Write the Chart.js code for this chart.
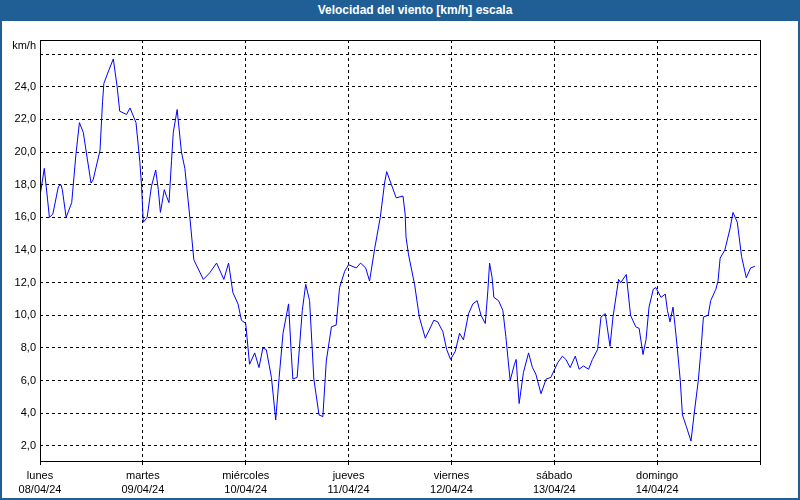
<!DOCTYPE html>
<html>
<head>
<meta charset="utf-8">
<script src="https://cdn.jsdelivr.net/npm/chart.js@4"></script>
<style>
  body { margin: 0; background: #fff; }
  #wrap { position: relative; width: 800px; height: 500px; overflow: hidden; background: #fff; }
  #bar { position: absolute; left: 0; top: 0; width: 800px; height: 21px; background: #1f5f95; color: #fff;
         font: bold 12px "Liberation Sans", Arial, sans-serif; line-height: 21px; text-align: center;
         box-sizing: border-box; padding-left: 30px; z-index: 2; }
  #frame { position: absolute; left: 0; top: 0; width: 800px; height: 500px; box-sizing: border-box;
           border: 2px solid #1f5f95; border-top: none; pointer-events: none; z-index: 2; }
  #unit { position: absolute; left: 0; width: 36px; top: 39px; text-align: right;
          font: 11px "Liberation Sans", Arial, sans-serif; color: #000; z-index: 2; }
  canvas { position: absolute; left: 0; top: 0; }
</style>
</head>
<body>
<div id="wrap">
  <div id="bar">Velocidad del viento [km/h] escala</div>
  <div id="unit">km/h</div>
  <canvas id="myChart" width="800" height="500"></canvas>
  <div id="frame"></div>
</div>
<script>
// hours since lunes 08/04/24 00:00
const hours = [0, 1, 2.2, 3, 4.3, 4.9, 5.2, 6.1, 7.4, 8.4, 9.2, 10.1, 11.9, 12.4, 14, 14.6, 14.9, 15.9, 17.1, 18,
  18.6, 20.2, 21, 22.4, 23.3, 23.7, 24.1, 25, 26, 27, 27.6, 28.1, 29, 29.5, 30.1, 30.7, 31.1, 32, 33, 33.8,
  35, 35.9, 38.1, 39.6, 41.2, 42.9, 44, 45, 46.2, 47, 48, 48.9, 50.1, 51.1, 52, 52.8, 54, 55, 55.8, 56.7,
  58, 58.6, 59, 60, 61.2, 62, 62.9, 63.9, 65.1, 66, 66.8, 68, 69.1, 69.9, 71.1, 72, 73.8, 74.8, 76, 76.9,
  78.1, 79.4, 80.4, 80.9, 82, 83.1, 84.7, 85.2, 85.4, 86, 87.4, 88.5, 89.9, 91.9, 92.8, 94, 94.9, 95.8, 96.9, 97.9,
  98.8, 100, 101, 102, 102.9, 103.9, 104.5, 104.9, 105.5, 105.9, 107, 108, 108.7, 109.7, 110.7, 111.1, 111.8, 112.8, 114, 114.9,
  115.7, 116.9, 118.1, 119.2, 120.8, 121.9, 122.7, 123.7, 124.9, 125.8, 126.8, 128, 128.9, 130.1, 130.9, 131.9, 133, 133.7, 135, 135.5,
  136.8, 137.8, 139, 139.8, 140.7, 141.4, 142.1, 143.1, 143.7, 144.9, 145.9, 146.4, 147, 147.7, 148.2, 148.7, 149.4, 149.9, 150.8, 151.9,
  152.6, 153.6, 154.2, 154.8, 155.9, 156.5, 157.7, 158.2, 158.7, 159.8, 161, 161.7, 162.7, 163.7, 164.8, 165.8, 166.8];

const speeds = [17.3, 19.0, 16.0, 16.2, 17.9, 18.0, 17.7, 16.0, 16.9, 19.9, 21.8, 21.2, 18.1, 18.3, 20.1, 23.1, 24.2, 24.9, 25.7, 24.0,
  22.5, 22.3, 22.7, 21.8, 19.4, 17.9, 15.7, 16.0, 17.9, 18.9, 17.7, 16.3, 17.7, 17.3, 16.9, 19.5, 21.2, 22.6, 20.0, 19.0,
  15.9, 13.4, 12.2, 12.6, 13.2, 12.2, 13.2, 11.4, 10.7, 9.7, 9.5, 7.0, 7.7, 6.8, 8.0, 7.9, 6.2, 3.6, 6.2, 8.9,
  10.7, 7.8, 6.1, 6.2, 10.3, 11.9, 10.9, 6.1, 3.9, 3.8, 7.2, 9.3, 9.4, 11.7, 12.7, 13.1, 12.9, 13.2, 12.9, 12.1,
  14.1, 16.0, 18.1, 18.8, 18.0, 17.2, 17.3, 16.2, 14.8, 13.7, 11.9, 9.9, 8.6, 9.7, 9.6, 9.0, 7.9, 7.3, 7.8, 8.9,
  8.5, 10.1, 10.7, 10.9, 10.0, 9.5, 11.5, 13.2, 12.3, 11.1, 10.9, 10.3, 8.7, 6.0, 7.0, 7.3, 4.6, 6.5, 7.7, 6.8,
  6.4, 5.2, 6.1, 6.2, 7.1, 7.5, 7.3, 6.8, 7.5, 6.7, 6.9, 6.7, 7.3, 7.9, 9.9, 10.1, 8.1, 9.9, 12.2, 12.0,
  12.5, 10.0, 9.3, 9.2, 7.6, 8.5, 10.5, 11.6, 11.7, 11.1, 11.3, 10.3, 9.6, 10.5, 9.3, 8.0, 6.0, 3.9, 3.2, 2.3,
  3.9, 6.0, 7.8, 9.9, 10.0, 10.9, 11.6, 12.1, 13.5, 14.0, 15.3, 16.3, 15.7, 13.6, 12.3, 12.9, 13.0];

const dayNames = ['lunes', 'martes', 'miércoles', 'jueves', 'viernes', 'sábado', 'domingo'];
const dayDates = ['08/04/24', '09/04/24', '10/04/24', '11/04/24', '12/04/24', '13/04/24', '14/04/24'];
const xTicks = [0, 24, 48, 72, 96, 120, 144, 168];
const yTicks = [2, 4, 6, 8, 10, 12, 14, 16, 18, 20, 22, 24, 26];

const points = hours.map((h, i) => ({ x: h, y: speeds[i] }));

const frame = {
  id: 'frame',
  afterDraw(chart) {
    const a = chart.chartArea;
    const c = chart.ctx;
    c.save();
    c.strokeStyle = '#000';
    c.lineWidth = 1;
    c.setLineDash([]);
    c.strokeRect(Math.round(a.left) + 0.5, Math.round(a.top) + 0.5,
      Math.round(a.right - a.left), Math.round(a.bottom - a.top));
    c.restore();
  }
};

const font = { family: '"Liberation Sans", Arial, sans-serif', size: 11 };

new Chart(document.getElementById('myChart'), {
  type: 'line',
  data: {
    datasets: [{
      data: points,
      borderColor: '#0000ff',
      borderWidth: 1,
      pointRadius: 0,
      tension: 0,
      fill: false
    }]
  },
  options: {
    responsive: false,
    animation: false,
    layout: { padding: { top: 40, right: 40, left: 0, bottom: 0 } },
    plugins: { legend: { display: false }, tooltip: { enabled: false } },
    scales: {
      x: {
        type: 'linear',
        min: 0,
        max: 168,
        afterBuildTicks: s => { s.ticks = xTicks.map(v => ({ value: v })); },
        afterFit: s => { s.height = 39; },
        ticks: {
          color: '#000',
          font: { ...font, lineHeight: 1.36 },
          padding: 3,
          maxRotation: 0,
          autoSkip: false,
          callback: v => { const i = v / 24; return i < 7 ? [dayNames[i], dayDates[i]] : ''; }
        },
        grid: { color: '#000', drawTicks: true, tickLength: 4 },
        border: { display: false, dash: [3, 3] }
      },
      y: {
        min: 1.08,
        max: 26.86,
        afterBuildTicks: s => { s.ticks = yTicks.map(v => ({ value: v })); },
        afterFit: s => { s.width = 40; },
        ticks: {
          color: '#000',
          font: font,
          padding: 4,
          callback: v => v === 26 ? '' : v.toFixed(1).replace('.', ',')
        },
        grid: { color: '#000', drawTicks: false },
        border: { display: false, dash: [3, 3] }
      }
    }
  },
  plugins: [frame]
});
</script>
</body>
</html>
